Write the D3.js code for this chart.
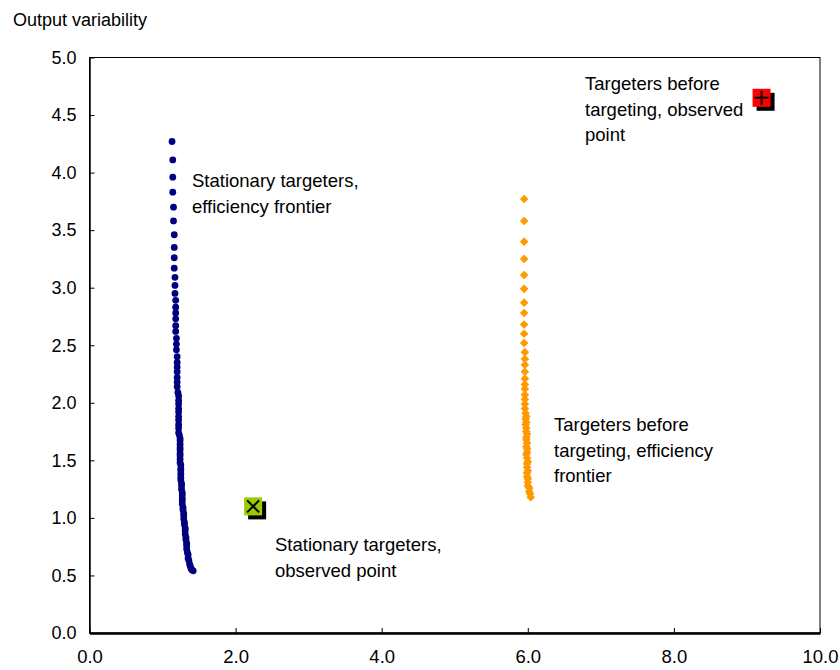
<!DOCTYPE html>
<html><head><meta charset="utf-8">
<script src="https://cdn.jsdelivr.net/npm/d3@7"></script>
<style>body{margin:0;background:#fff}svg{display:block}text{font-family:Arial,"Liberation Sans",sans-serif;fill:#000}</style>
</head><body><svg id="c" width="840" height="670"></svg>
<script>
const xTicks = [0, 2, 4, 6, 8, 10];
const yTicks = [0, 0.5, 1, 1.5, 2, 2.5, 3, 3.5, 4, 4.5, 5];
const yTitle = "Output variability";

// Stationary targeters, efficiency frontier [x, y]
const stationaryFrontier = [
[1.13,4.27],[1.14,4.11],[1.14,3.96],[1.14,3.83],[1.15,3.70],[1.15,3.58],[1.16,3.46],[1.16,3.35],
[1.16,3.26],[1.16,3.17],[1.17,3.09],[1.17,3.02],[1.17,2.95],[1.18,2.89],[1.18,2.83],[1.18,2.78],
[1.18,2.73],[1.18,2.67],[1.18,2.62],[1.19,2.56],[1.19,2.51],[1.19,2.46],[1.20,2.40],[1.20,2.35],
[1.20,2.31],[1.20,2.27],[1.20,2.22],[1.20,2.18],[1.20,2.14],[1.21,2.09],[1.22,2.06],[1.22,2.02],
[1.22,1.99],[1.22,1.95],[1.22,1.92],[1.22,1.88],[1.22,1.85],[1.22,1.81],[1.22,1.78],[1.22,1.74],
[1.23,1.72],[1.24,1.69],[1.24,1.67],[1.24,1.64],[1.24,1.61],[1.24,1.59],[1.24,1.56],[1.24,1.54],
[1.24,1.51],[1.24,1.48],[1.25,1.46],[1.25,1.43],[1.25,1.41],[1.25,1.38],[1.25,1.35],[1.25,1.33],
[1.26,1.30],[1.26,1.28],[1.26,1.25],[1.27,1.22],[1.27,1.20],[1.27,1.17],[1.27,1.15],[1.27,1.12],
[1.28,1.09],[1.28,1.07],[1.29,1.04],[1.29,1.02],[1.29,0.99],[1.30,0.96],[1.30,0.94],[1.31,0.91],
[1.31,0.89],[1.31,0.86],[1.32,0.83],[1.32,0.81],[1.33,0.78],[1.33,0.76],[1.33,0.73],[1.34,0.70],
[1.35,0.68],[1.35,0.65],[1.36,0.63],[1.37,0.60],[1.38,0.58],[1.39,0.56],[1.40,0.55],[1.42,0.54]
];

// Targeters before targeting, efficiency frontier [x, y]
const beforeFrontier = [
[5.95,3.77],[5.95,3.58],[5.95,3.40],[5.95,3.25],[5.95,3.11],[5.95,2.99],[5.95,2.87],[5.95,2.78],
[5.95,2.68],[5.95,2.60],[5.95,2.52],[5.96,2.44],[5.96,2.38],[5.96,2.33],[5.96,2.27],[5.96,2.21],
[5.96,2.16],[5.96,2.12],[5.96,2.07],[5.96,2.03],[5.96,1.99],[5.96,1.95],[5.97,1.91],[5.98,1.88],
[5.97,1.86],[5.98,1.83],[5.97,1.81],[5.98,1.78],[5.98,1.75],[5.99,1.73],[5.98,1.70],[5.98,1.68],
[5.99,1.65],[5.98,1.62],[5.99,1.60],[5.99,1.57],[5.98,1.55],[5.99,1.52],[6.00,1.49],[5.99,1.47],
[5.99,1.44],[6.00,1.41],[5.99,1.39],[5.99,1.36],[6.00,1.34],[6.00,1.31],[6.00,1.28],[6.02,1.26],
[6.02,1.23],[6.03,1.21],[6.04,1.18]
];

const stationaryObserved = [[2.24, 1.10]];
const beforeObserved = [[9.20, 4.65]];

const labels = [
  {x: 192, y: 187, lines: ["Stationary targeters,", "efficiency frontier"]},
  {x: 585, y: 90, lines: ["Targeters before", "targeting, observed", "point"]},
  {x: 554, y: 431, lines: ["Targeters before", "targeting, efficiency", "frontier"]},
  {x: 275, y: 551, lines: ["Stationary targeters,", "observed point"]}
];

const svg = d3.select("#c");
const L = 89.5, R = 820, T = 57.5, B = 633;
const x = d3.scaleLinear().domain([0, 10]).range([L, R]);
const y = d3.scaleLinear().domain([0, 5]).range([B, T]);

// box
svg.append("rect").attr("x", L).attr("y", T).attr("width", R - L).attr("height", B - T)
  .attr("fill", "none").attr("stroke", "#000").attr("stroke-width", 1);

// y axis
const ya = svg.append("g").attr("transform", `translate(${L},0)`)
  .call(d3.axisLeft(y).tickValues(yTicks).tickFormat(d3.format(".1f")).tickSizeInner(-5).tickSizeOuter(0).tickPadding(13));
ya.select(".domain").attr("stroke", "#000").attr("stroke-width", 1.5);
ya.selectAll("text").style("font-size", "18px").attr("font-family", "Arial, 'Liberation Sans', sans-serif");

// x axis
const xa = svg.append("g").attr("transform", `translate(0,${B})`)
  .call(d3.axisBottom(x).tickValues(xTicks).tickFormat(d3.format(".1f")).tickSizeInner(-5).tickSizeOuter(0).tickPadding(17));
xa.select(".domain").attr("stroke", "#000").attr("stroke-width", 2.5);
xa.selectAll("text").style("font-size", "18.5px").attr("font-family", "Arial, 'Liberation Sans', sans-serif");

svg.append("text").attr("x", 13).attr("y", 26).style("font-size", "18px").text(yTitle);

// series
svg.append("g").selectAll("circle").data(stationaryFrontier).join("circle")
  .attr("cx", d => x(d[0])).attr("cy", d => y(d[1])).attr("r", 3.4).attr("fill", "#000080");

svg.append("g").selectAll("path").data(beforeFrontier).join("path")
  .attr("transform", d => `translate(${x(d[0])},${y(d[1])})`)
  .attr("d", "M0,-4.3L4.3,0L0,4.3L-4.3,0Z").attr("fill", "#FF9900");

function observed(data, fill, sym) {
  const g = svg.append("g").selectAll("g").data(data).join("g")
    .attr("transform", d => `translate(${x(d[0])},${y(d[1])})`);
  const s = 9;
  g.append("rect").attr("x", -s + 4).attr("y", -s + 4).attr("width", 2 * s).attr("height", 2 * s).attr("fill", "#000");
  g.append("rect").attr("x", -s).attr("y", -s).attr("width", 2 * s).attr("height", 2 * s).attr("fill", fill);
  const k = 6;
  if (sym === "x") {
    g.append("path").attr("d", `M${-k},${-k}L${k},${k}M${-k},${k}L${k},${-k}`).attr("stroke", "#000").attr("stroke-width", 2);
  } else {
    g.append("path").attr("d", `M0,${-k - 1}L0,${k + 1}M${-k - 1},0L${k + 1},0`).attr("stroke", "#000").attr("stroke-width", 2);
  }
}
observed(stationaryObserved, "#99CC00", "x");
observed(beforeObserved, "#FF0000", "+");

// labels
labels.forEach(lb => {
  const t = svg.append("text").attr("x", lb.x).attr("y", lb.y).style("font-size", "18.5px");
  lb.lines.forEach((s, i) => t.append("tspan").attr("x", lb.x).attr("dy", i === 0 ? 0 : 25.5).text(s));
});
</script></body></html>
